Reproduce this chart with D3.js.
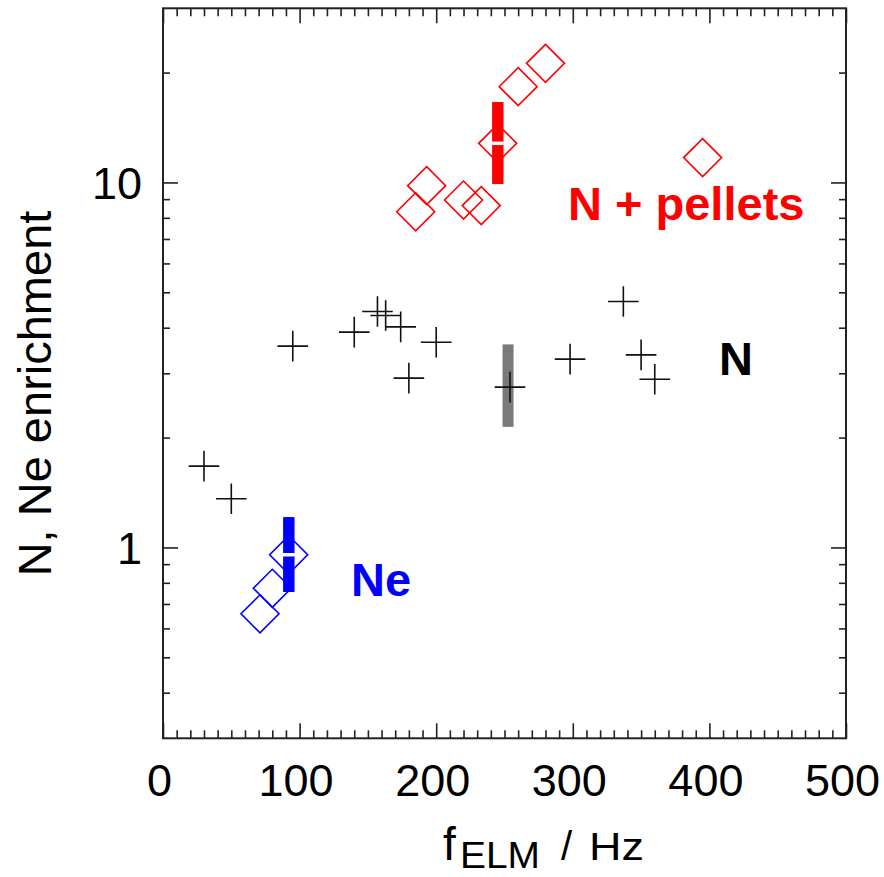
<!DOCTYPE html>
<html>
<head>
<meta charset="utf-8">
<script src="https://cdn.jsdelivr.net/npm/d3@7"></script>
<style>
  html, body { margin: 0; padding: 0; background: #fff; }
  svg { display: block; }
  text { font-family: "Liberation Sans", Arial, sans-serif; }
</style>
</head>
<body>
<svg id="chart" width="884" height="877"></svg>
<script>
// ---- data ----
const nFreq   = [30, 50, 95, 140, 157, 163, 174, 180, 200, 254, 298, 337, 350, 360];
const nEnrich = [1.67, 1.36, 3.56, 3.89, 4.43, 4.32, 4.02, 2.91, 3.65, 2.75, 3.28, 4.72, 3.37, 2.89];

const pelFreq   = [185, 193, 220, 233, 245, 260, 280, 395];
const pelEnrich = [8.31, 9.8, 8.95, 8.64, 12.8, 18.3, 21.2, 11.7];

const neFreq   = [71, 80, 92];
const neEnrich = [0.658, 0.773, 0.955];

// range bars: [freq, low, high]
const barGroups = ["N", "N + pellets", "Ne"];
const barFreq = [252.6, 245.1, 92.1];
const barLow  = [2.14, 9.9, 0.755];
const barHigh = [3.60, 16.6, 1.21];

const xMajorTicks = [0, 100, 200, 300, 400, 500];
const xMinorTicks = d3.range(0, 501, 10).filter(d => d % 100 !== 0);
const yMajorTicks = [1, 10];
const yMinorTicks = [0.4, 0.5, 0.6, 0.7, 0.8, 0.9, 2, 3, 4, 5, 6, 7, 8, 9, 20];

const labelText = ["N + pellets", "N", "Ne"];
const labelFreq = [296.5, 407, 137.6];
const labelEnrich = [7.91, 2.965, 0.738];

// ---- styles ----
const colors = { "N": "#111111", "N + pellets": "#ff0000", "Ne": "#0000ff" };
const barColors = { "N": "#7a7a7a", "N + pellets": "#ff0000", "Ne": "#0000ff" };

const svg = d3.select("#chart");
const L = 163, R = 846, T = 8.3, B = 738.3;
const x = d3.scaleLinear().domain([0, 500]).range([L, R]);
const y = d3.scaleLog().domain([0.3, 30]).range([B, T]);

const axisColor = "#222";

function styleAxis(g) {
  g.select(".domain").remove();
  g.selectAll(".tick line").attr("stroke", axisColor).attr("stroke-width", 1.6);
}

// bottom axis
svg.append("g").attr("transform", `translate(0,${B})`)
  .call(d3.axisBottom(x).tickValues(xMinorTicks).tickSize(-8).tickFormat(""))
  .call(styleAxis);
const bx = svg.append("g").attr("transform", `translate(0,${B})`)
  .call(d3.axisBottom(x).tickValues(xMajorTicks).tickSizeInner(-15).tickSizeOuter(0).tickPadding(26).tickFormat(d3.format("d")))
  .call(styleAxis);
bx.selectAll("text").attr("font-size", 45).attr("fill", "#000").attr("dx", -4)
  .style("font-family", '"Liberation Sans", Arial, sans-serif');

// top axis
svg.append("g").attr("transform", `translate(0,${T})`)
  .call(d3.axisTop(x).tickValues(xMinorTicks).tickSize(-8).tickFormat(""))
  .call(styleAxis);
svg.append("g").attr("transform", `translate(0,${T})`)
  .call(d3.axisTop(x).tickValues(xMajorTicks).tickSize(-15).tickFormat(""))
  .call(styleAxis);

// left axis
svg.append("g").attr("transform", `translate(${L},0)`)
  .call(d3.axisLeft(y).tickValues(yMinorTicks).tickSize(-7).tickFormat(""))
  .call(styleAxis);
const ly = svg.append("g").attr("transform", `translate(${L},0)`)
  .call(d3.axisLeft(y).tickValues(yMajorTicks).tickSizeInner(-15).tickSizeOuter(0).tickPadding(21).tickFormat(d3.format("d")))
  .call(styleAxis);
ly.selectAll("text").attr("font-size", 45).attr("fill", "#000").attr("dy", "0.36em")
  .style("font-family", '"Liberation Sans", Arial, sans-serif');

// right axis
svg.append("g").attr("transform", `translate(${R},0)`)
  .call(d3.axisRight(y).tickValues(yMinorTicks).tickSize(-7).tickFormat(""))
  .call(styleAxis);
svg.append("g").attr("transform", `translate(${R},0)`)
  .call(d3.axisRight(y).tickValues(yMajorTicks).tickSize(-15).tickFormat(""))
  .call(styleAxis);

// frame
svg.append("rect").attr("x", L).attr("y", T).attr("width", R - L).attr("height", B - T)
  .attr("fill", "none").attr("stroke", axisColor).attr("stroke-width", 2);

// range bars
const bars = barGroups.map((g, i) => ({ g, f: barFreq[i], lo: barLow[i], hi: barHigh[i] }));
const barW = 11;
svg.append("g").selectAll("rect").data(bars).join("rect")
  .attr("x", d => x(d.f) - barW / 2)
  .attr("width", barW)
  .attr("y", d => y(d.hi))
  .attr("height", d => y(d.lo) - y(d.hi))
  .attr("fill", d => barColors[d.g]);

// N crosses
const S = 15.3;
const nData = nFreq.map((f, i) => ({ f, e: nEnrich[i] }));
svg.append("g").selectAll("path").data(nData).join("path")
  .attr("transform", d => `translate(${x(d.f)},${y(d.e)})`)
  .attr("d", `M${-S},0H${S}M0,${-S}V${S}`)
  .attr("stroke", colors["N"]).attr("stroke-width", 1.6).attr("fill", "none");

// diamonds
const D = 19;
const diamond = `M0,${-D}L${D},0L0,${D}L${-D},0Z`;
const pelData = pelFreq.map((f, i) => ({ f, e: pelEnrich[i] }));
svg.append("g").selectAll("path").data(pelData).join("path")
  .attr("transform", d => `translate(${x(d.f)},${y(d.e)})`)
  .attr("d", diamond)
  .attr("stroke", colors["N + pellets"]).attr("stroke-width", 1.6).attr("fill", "none");

const neData = neFreq.map((f, i) => ({ f, e: neEnrich[i] }));
svg.append("g").selectAll("path").data(neData).join("path")
  .attr("transform", d => `translate(${x(d.f)},${y(d.e)})`)
  .attr("d", diamond)
  .attr("stroke", colors["Ne"]).attr("stroke-width", 1.6).attr("fill", "none");

// redraw coloured bars over diamonds, with white gap at the marker centre
const colBars = bars.filter(d => d.g !== "N");
svg.append("g").selectAll("rect").data(colBars).join("rect")
  .attr("x", d => x(d.f) - barW / 2)
  .attr("width", barW)
  .attr("y", d => y(d.hi))
  .attr("height", d => y(d.lo) - y(d.hi))
  .attr("fill", d => barColors[d.g]);
const gapAt = { "N + pellets": pelEnrich[4], "Ne": neEnrich[2] };
svg.append("g").selectAll("line").data(colBars).join("line")
  .attr("x1", d => x(d.f) - barW / 2 - 0.5)
  .attr("x2", d => x(d.f) + barW / 2 + 0.5)
  .attr("y1", d => y(gapAt[d.g]))
  .attr("y2", d => y(gapAt[d.g]))
  .attr("stroke", "#fff").attr("stroke-width", 3.5);

// group labels
svg.append("g").selectAll("text").data(labelText).join("text")
  .attr("x", (d, i) => x(labelFreq[i]))
  .attr("y", (d, i) => y(labelEnrich[i]))
  .attr("font-size", 47).attr("font-weight", "bold")
  .attr("fill", d => d === "N" ? "#000" : colors[d])
  .text(d => d);

// y title
svg.append("text")
  .attr("transform", "translate(50.5,393.5) rotate(-90)")
  .attr("text-anchor", "middle")
  .attr("font-size", 47).attr("fill", "#000")
  .text("N, Ne enrichment");

// x title
const xt = svg.append("text").attr("x", 443).attr("y", 860).attr("fill", "#000");
xt.append("tspan").attr("font-size", 46).text("f");
xt.append("tspan").attr("font-size", 37).attr("x", 460).attr("dy", 8)
  .attr("textLength", 80).attr("lengthAdjust", "spacingAndGlyphs").text("ELM");
xt.append("tspan").attr("font-size", 40).attr("x", 561).attr("dy", -8).text("/");
xt.append("tspan").attr("font-size", 38).attr("x", 589)
  .attr("textLength", 55).attr("lengthAdjust", "spacingAndGlyphs").text("Hz");
</script>
</body>
</html>
